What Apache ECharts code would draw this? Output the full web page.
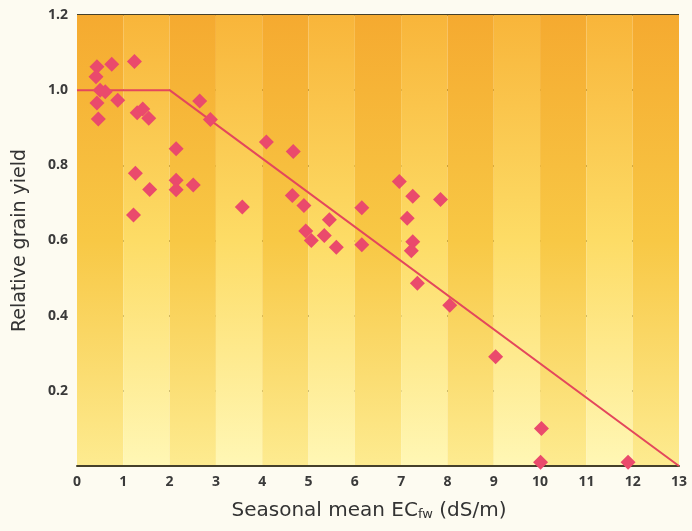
<!DOCTYPE html>
<html>
<head>
<meta charset="utf-8">
<script src="https://cdn.jsdelivr.net/npm/echarts@6/dist/echarts.min.js"></script>
<style>
html,body{margin:0;padding:0;background:#FDFBF1;}
#c{width:692px;height:531px;}
</style>
</head>
<body>
<div id="c"></div>
<script>
// Observed points: seasonal mean ECfw (dS/m) and relative grain yield
var ecValues = [0.43,0.41,0.75,1.24,0.50,0.61,0.43,0.88,0.46,1.30,1.42,1.55,2.65,2.88,2.14,1.26,1.57,2.14,2.14,2.51,1.22,3.57,4.09,4.67,4.65,4.90,5.45,4.94,5.06,5.34,5.60,6.96,7.25,7.85,6.15,7.13,6.15,7.25,7.22,7.35,8.05,9.04,10.03,10.01,11.90];
var yieldValues = [1.062,1.036,1.069,1.076,1.000,0.996,0.966,0.973,0.923,0.940,0.950,0.925,0.971,0.922,0.844,0.779,0.736,0.760,0.735,0.748,0.668,0.689,0.862,0.837,0.720,0.693,0.655,0.625,0.600,0.613,0.582,0.757,0.718,0.709,0.687,0.659,0.589,0.597,0.573,0.486,0.428,0.291,0.100,0.010,0.010];
// Threshold-slope response line
var modelEC = [0, 2, 13];
var modelYield = [1.0, 1.0, 0.0];
// Axis ticks
var xTicks = [0,1,2,3,4,5,6,7,8,9,10,11,12,13];
var yTicks = [0.2,0.4,0.6,0.8,1.0,1.2];

var points = ecValues.map(function(x,i){return [x, yieldValues[i]];});
var model = modelEC.map(function(x,i){return [x, modelYield[i]];});

function grad(top, mid, bot){
  return {type:'linear',x:0,y:0,x2:0,y2:1,colorStops:[
    {offset:0,color:top},{offset:0.5,color:mid},{offset:1,color:bot}]};
}

var chart = echarts.init(document.getElementById('c'));
chart.setOption({
  backgroundColor:'#FDFBF1',
  animation:false,
  textStyle:{fontFamily:'Open Sans'},
  grid:{left:77,right:13,top:15,bottom:65,containLabel:false},
  xAxis:{
    type:'value',min:0,max:13,interval:1,
    axisLine:{show:true,lineStyle:{color:'#45402a',width:2}},
    axisTick:{show:false},
    splitLine:{show:false},
    splitArea:{show:true,areaStyle:{color:[
      grad('#F5AA30','#F8C845','#FDEB90'),
      grad('#F8B53A','#FDDC66','#FFF7B5')
    ]}},
    axisLabel:{color:'#3a3a3a',fontWeight:'bold',fontSize:14,margin:9,
      formatter:function(v){return xTicks.indexOf(v)>=0?String(v):'';}},
    name:'{a|Seasonal mean EC}{s|fw}{a| (dS/m)}',
    nameLocation:'middle',nameGap:34,
    nameTextStyle:{padding:[0,18,0,0],rich:{
      a:{fontSize:20,color:'#333',fontFamily:'DejaVu Sans'},
      s:{fontSize:13,color:'#333',fontFamily:'DejaVu Sans',padding:[8,0,0,0]}
    }}
  },
  yAxis:{
    type:'value',min:0,max:1.2,interval:0.2,
    axisLine:{show:false},
    axisTick:{show:false},
    splitLine:{show:true,lineStyle:{color:'#45402a',width:2}},
    axisLabel:{color:'#3a3a3a',fontWeight:'bold',fontSize:14,margin:9,
      formatter:function(v){
        for(var i=0;i<yTicks.length;i++){ if(Math.abs(yTicks[i]-v)<1e-6) return yTicks[i].toFixed(1); }
        return '';
      }},
    name:'Relative grain yield',
    nameLocation:'middle',nameGap:47,
    nameTextStyle:{fontSize:19,color:'#333',fontFamily:'DejaVu Sans'}
  },
  series:[
    {type:'line',data:model,symbol:'none',z:3,
      lineStyle:{color:'#E4475C',width:2}},
    {type:'scatter',data:points,symbol:'diamond',symbolSize:15,z:4,
      itemStyle:{color:'#EA4A6C',opacity:1}}
  ]
});
</script>
</body>
</html>
